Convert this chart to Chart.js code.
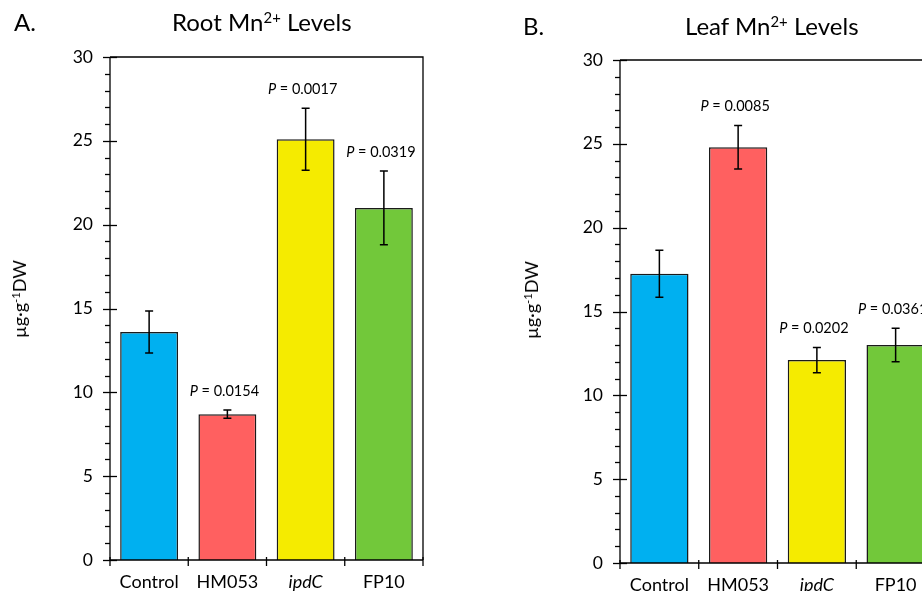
<!DOCTYPE html>
<html>
<head>
<meta charset="utf-8">
<script src="https://cdn.jsdelivr.net/npm/chart.js@4"></script>
<style>
  html, body { margin: 0; padding: 0; background: #fff; overflow: hidden; }
  body { width: 922px; height: 591px; position: relative; font-family: Lato, sans-serif; color: #000; }
  .panel { position: absolute; top: 0; height: 591px; }
  .lbl { position: absolute; white-space: nowrap; font-size: 24px; }
  .ytitle { position: absolute; font-size: 18px; white-space: nowrap; transform: translate(-50%, -50%) rotate(-90deg); }
  sup { font-size: 0.62em; vertical-align: 0.55em; line-height: 0; }
</style>
</head>
<body>
<div class="panel" style="left:0; width:461px;"><canvas id="rootChart" width="461" height="591"></canvas></div>
<div class="panel" style="left:461px; width:500px;"><canvas id="leafChart" width="500" height="591"></canvas></div>

<div class="lbl" style="left:14px; top:7px;">A.</div>
<div class="lbl" style="left:172px; top:7px;">Root Mn<sup>2+</sup> Levels</div>
<div class="lbl" style="left:523px; top:11px;">B.</div>
<div class="lbl" style="left:685px; top:11px;">Leaf Mn<sup>2+</sup> Levels</div>
<div class="ytitle" style="left:19px; top:299px;">µg·g<sup>-1</sup>DW</div>
<div class="ytitle" style="left:531px; top:300px;">µg·g<sup>-1</sup>DW</div>

<script>
// categories and colours
const categories = ['Control', 'HM053', 'ipdC', 'FP10']
const barColors = ['rgb(0,176,240)', 'rgb(255,96,96)', 'rgb(245,235,0)', 'rgb(114,200,58)']

// Root Mn2+ (panel A)
const rootMeans = [13.6, 8.7, 25.1, 21.0]
const rootErrors = [1.25, 0.25, 1.85, 2.2]
const rootPvalues = ['', '0.0154', '0.0017', '0.0319']

// Leaf Mn2+ (panel B)
const leafMeans = [17.25, 24.8, 12.1, 13.0]
const leafErrors = [1.4, 1.3, 0.75, 1.0]
const leafPvalues = ['', '0.0085', '0.0202', '0.0361']

// y axis
const yMin = 0
const yMax = 30
const yStep = 5

const FONT = 'Lato, sans-serif'

// draws the frame, tick marks, error bars and P labels
const panelPlugin = {
  id: 'panel',
  afterDatasetsDraw(chart, args, opts) {
    const ctx = chart.ctx
    const a = chart.chartArea
    const x = chart.scales.x
    const y = chart.scales.y
    ctx.save()
    ctx.strokeStyle = '#000'
    ctx.lineWidth = 1.3

    // frame
    ctx.beginPath()
    ctx.moveTo(a.left, a.top)
    ctx.lineTo(a.right, a.top)
    ctx.lineTo(a.right, a.bottom)
    ctx.moveTo(a.left, a.top)
    ctx.lineTo(a.left, a.bottom)
    ctx.lineTo(a.right, a.bottom)
    ctx.stroke()

    // y ticks: majors cross the axis, minors outside
    for (let v = yMin; v <= yMax; v++) {
      const py = Math.round(y.getPixelForValue(v)) + 0.5
      ctx.beginPath()
      if (v % yStep === 0) {
        ctx.moveTo(a.left - 7, py)
        ctx.lineTo(a.left + 7, py)
      } else {
        ctx.moveTo(a.left - 5, py)
        ctx.lineTo(a.left, py)
      }
      ctx.stroke()
    }

    // x ticks at category boundaries
    for (let i = 0; i <= categories.length; i++) {
      const px = x.getPixelForValue(i - 0.5)
      ctx.beginPath()
      ctx.moveTo(px, a.bottom - 3)
      ctx.lineTo(px, a.bottom + 6)
      ctx.stroke()
    }

    // error bars
    const meta = chart.getDatasetMeta(0)
    ctx.lineWidth = 1.5
    meta.data.forEach((bar, i) => {
      const hi = y.getPixelForValue(opts.means[i] + opts.errors[i])
      const lo = y.getPixelForValue(opts.means[i] - opts.errors[i])
      ctx.beginPath()
      ctx.moveTo(bar.x, hi)
      ctx.lineTo(bar.x, lo)
      ctx.moveTo(bar.x - 4, hi)
      ctx.lineTo(bar.x + 4, hi)
      ctx.moveTo(bar.x - 4, lo)
      ctx.lineTo(bar.x + 4, lo)
      ctx.stroke()

      // P value above the error bar
      if (opts.pvalues[i]) {
        const rest = ' = ' + opts.pvalues[i]
        ctx.fillStyle = '#000'
        ctx.textBaseline = 'middle'
        ctx.font = 'italic 14.5px ' + FONT
        const wP = ctx.measureText('P').width
        ctx.font = '14.5px ' + FONT
        const wR = ctx.measureText(rest).width
        const left = bar.x - (wP + wR) / 2 - 3
        const ty = hi - 19
        ctx.font = 'italic 14.5px ' + FONT
        ctx.fillText('P', left, ty)
        ctx.font = '14.5px ' + FONT
        ctx.fillText(rest, left + wP, ty)
      }
    })
    ctx.restore()
  }
}

function makeChart(id, means, errors, pvalues, box) {
  return new Chart(document.getElementById(id), {
    type: 'bar',
    data: {
      labels: categories,
      datasets: [{
        data: means,
        backgroundColor: barColors,
        borderColor: '#1a1a1a',
        borderWidth: 1.5,
        barPercentage: 0.74,
        categoryPercentage: 1
      }]
    },
    options: {
      responsive: false,
      animation: false,
      layout: { padding: { left: 0, top: box.top, right: box.right, bottom: 0 } },
      plugins: {
        legend: { display: false },
        title: { display: false },
        tooltip: { enabled: false },
        panel: { means: means, errors: errors, pvalues: pvalues }
      },
      scales: {
        x: {
          grid: { display: false, drawTicks: false },
          border: { display: false },
          afterFit: s => { s.height = box.xHeight },
          ticks: {
            color: '#000',
            padding: 11,
            maxRotation: 0,
            font: c => ({ family: FONT, size: 18, style: categories[c.index] === 'ipdC' ? 'italic' : 'normal' })
          }
        },
        y: {
          min: yMin,
          max: yMax,
          grid: { display: false, drawTicks: false },
          border: { display: false },
          afterFit: s => { s.width = box.yWidth },
          ticks: {
            stepSize: yStep,
            color: '#000',
            padding: 17,
            font: { family: FONT, size: 17.5 }
          }
        }
      }
    },
    plugins: [panelPlugin]
  })
}

makeChart('rootChart', rootMeans, rootErrors, rootPvalues, { top: 57, right: 38, xHeight: 31, yWidth: 110 })
makeChart('leafChart', leafMeans, leafErrors, leafPvalues, { top: 60, right: 26, xHeight: 28, yWidth: 159 })
</script>
</body>
</html>
